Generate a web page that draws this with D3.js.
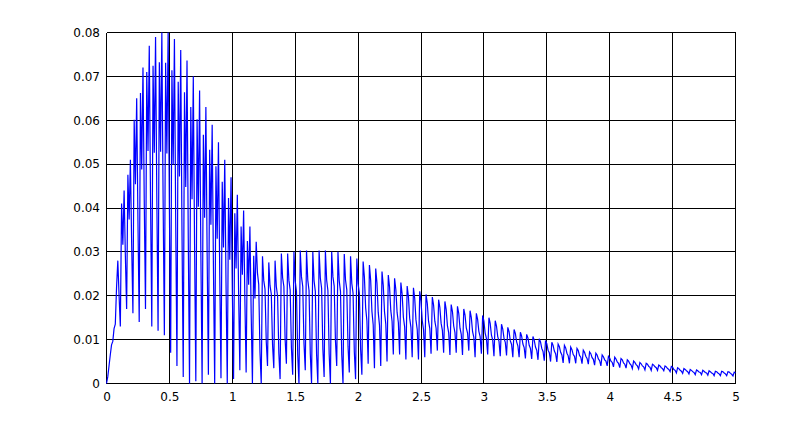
<!DOCTYPE html>
<html>
<head>
<meta charset="utf-8">
<script src="https://cdn.jsdelivr.net/npm/d3@7"></script>
<style>
  html, body { margin: 0; padding: 0; background: #fff; }
  svg { display: block; }
  .tick text { font-family: "DejaVu Sans", sans-serif; font-size: 12px; fill: #000; }
</style>
</head>
<body>
<svg id="chart" width="812" height="430"></svg>
<script>
// ---- data ----
const timeStart = 0;
const timeStep = 0.01;
const xTicks = [0, 0.5, 1, 1.5, 2, 2.5, 3, 3.5, 4, 4.5, 5];
const xTickLabels = ["0", "0.5", "1", "1.5", "2", "2.5", "3", "3.5", "4", "4.5", "5"];
const yTicks = [0, 0.01, 0.02, 0.03, 0.04, 0.05, 0.06, 0.07, 0.08];
const yTickLabels = ["0", "0.01", "0.02", "0.03", "0.04", "0.05", "0.06", "0.07", "0.08"];
const signal = [
  0, .0015, .004, .0065, .0088, .0096, .0125, .0135, .022, .028,
  .020, .013, .041, .0316, .044, .029, .017, .0476, .0374, .051,
  .0318, .016, .0601, .0454, .065, .037, .014, .0662, .0488, .072,
  .0418, .017, .071, .053, .077, .0418, .013, .0724, .0526, .079,
  .0422, .012, .0732, .0528, .080, .042, .011, .0731, .0524, .080,
  .0399, .007, .0714, .0499, .0785, .0375, .004, .0688, .0472, .076,
  .035, .0015, .0664, .0448, .0736, .0331, 0, .063, .042, .070,
  .0318, .0005, .0602, .0403, .0668, .030, 0, .0567, .0378, .063,
  .0295, .002, .0533, .0362, .059, .0266, 0, .0495, .033, .055,
  .0254, .0012, .046, .031, .051, .023, 0, .0423, .0282, .047,
  .0217, .001, .0388, .0262, .043, .021, .003, .0358, .0248, .0394,
  .0191, .0025, .0325, .0225, .0358, .0161, 0, .0291, .0194, .0323,
  .0252, .0226, .0071, 0, .029, .0235, .0215, .0095, .004, .0276,
  .0223, .0204, .0088, .0035, .028, .0221, .0199, .0069, .001, .0296,
  .0241, .0221, .01, .0045, .0296, .0235, .0213, .0081, .002, .030,
  .0234, .021, .0066, 0, .0303, .0243, .0221, .009, .003, .0303,
  .0236, .0212, .0067, 0, .030, .0234, .021, .0066, 0, .0303,
  .024, .0217, .0078, .0015, .0303, .0236, .0212, .0067, 0, .030,
  .0243, .0222, .0097, .004, .030, .0234, .021, .0066, 0, .0295,
  .0236, .0214, .0084, .0025, .029, .0228, .0206, .0072, .001, .0285,
  .0227, .0206, .0078, .002, .0278, .0243, .0173, .0143, .0045, .027,
  .0235, .0164, .0134, .0035, .0262, .0229, .0162, .0133, .004, .0255,
  .0224, .0163, .0136, .005, .0247, .022, .0166, .0142, .0066, .024,
  .0214, .0162, .0139, .0066, .023, .0204, .0151, .0129, .0055, .0222,
  .0198, .0149, .0128, .006, .0218, .0194, .0145, .0123, .0055, .021,
  .0188, .0143, .0123, .006, .0203, .0183, .0142, .0125, .0068, .0197,
  .0179, .0142, .0126, .0075, .0191, .0173, .0137, .0121, .007, .0187,
  .0169, .0132, .0116, .0065, .018, .0164, .0131, .0116, .007, .0176,
  .016, .0126, .0112, .0065, .017, .0156, .0127, .0115, .0075, .0166,
  .015, .0118, .0105, .006, .016, .0146, .0119, .0107, .0068, .0155,
  .0142, .0115, .0103, .0066, .015, .0137, .011, .0099, .0062, .0143,
  .0131, .0107, .0096, .0062, .0135, .0124, .0103, .0094, .0064, .0128,
  .0118, .0097, .0089, .006, .0123, .0114, .0095, .0086, .006, .0117,
  .0108, .009, .0082, .0057, .0112, .0104, .0087, .008, .0056, .0107,
  .0099, .0083, .0076, .0054, .0102, .0095, .008, .0073, .0052, .0098,
  .0091, .0076, .007, .005, .0094, .0087, .0074, .0068, .0049, .009,
  .0084, .0071, .0065, .0047, .0087, .0081, .0069, .0063, .0046, .0083,
  .0077, .0066, .0062, .0046, .008, .0075, .0064, .006, .0045, .0076,
  .0071, .0062, .0057, .0044, .0072, .0068, .0059, .0055, .0042, .0069,
  .0065, .0056, .0052, .004, .0065, .0061, .0054, .0051, .004, .0062,
  .0058, .0051, .0048, .0038, .006, .0056, .0049, .0046, .0036, .0057,
  .0054, .0047, .0044, .0035, .0054, .0051, .0045, .0042, .0034, .0051,
  .0048, .0043, .004, .0033, .0048, .0045, .004, .0038, .0031, .0046,
  .0044, .0039, .0037, .003, .0044, .0042, .0038, .0036, .003, .0042,
  .004, .0036, .0034, .0029, .004, .0038, .0034, .0032, .0027, .0039,
  .0037, .0032, .003, .0024, .0036, .0034, .003, .0028, .0023, .0034,
  .0032, .0029, .0027, .0022, .0032, .003, .0027, .0025, .002, .0031,
  .0029, .0026, .0025, .002, .003, .0028, .0025, .0024, .0019, .0029,
  .0027, .0024, .0023, .0018, .0028, .0027, .0024, .0022, .0018, .0028,
  .0027, .0024, .0022, .0018, .0027, .0026, .0023, .0021, .0017, .0026,
  .0024
];

// ---- layout ----
const svg = d3.select("#chart");
const plot = { left: 106, right: 735, top: 32, bottom: 383 };

const x = d3.scaleLinear().domain([0, 5]).range([plot.left + 0.5, plot.right + 0.5]);
const y = d3.scaleLinear().domain([0, 0.08]).range([plot.bottom + 0.5, plot.top + 0.5]);

svg.append("rect").attr("width", 812).attr("height", 430).attr("fill", "#fff");

// grid lines
const grid = svg.append("g").attr("shape-rendering", "crispEdges");
grid.selectAll("line.vx").data(xTicks).enter().append("line")
  .attr("x1", d => Math.round(x(d) - 0.5) + 0.5).attr("x2", d => Math.round(x(d) - 0.5) + 0.5)
  .attr("y1", y(0)).attr("y2", y(0.08))
  .attr("stroke", "#000").attr("stroke-width", 1);
grid.selectAll("line.hy").data(yTicks).enter().append("line")
  .attr("y1", d => Math.round(y(d) - 0.5) + 0.5).attr("y2", d => Math.round(y(d) - 0.5) + 0.5)
  .attr("x1", x(0)).attr("x2", x(5))
  .attr("stroke", "#000").attr("stroke-width", 1);

// data line
const line = d3.line()
  .x((d, i) => x(timeStart + i * timeStep))
  .y(d => y(d));
svg.append("path")
  .datum(signal)
  .attr("d", line)
  .attr("fill", "none")
  .attr("stroke", "#0000ff")
  .attr("stroke-width", 1.2);

// axes (tick labels)
const xAxis = d3.axisBottom(x).tickValues(xTicks)
  .tickFormat((d, i) => xTickLabels[i]).tickSize(0).tickPadding(9);
const gx = svg.append("g").attr("transform", `translate(0,${plot.bottom})`).call(xAxis);
gx.select(".domain").remove();

const yAxis = d3.axisLeft(y).tickValues(yTicks)
  .tickFormat((d, i) => yTickLabels[i]).tickSize(0).tickPadding(6);
const gy = svg.append("g").attr("transform", `translate(${plot.left},0)`).call(yAxis);
gy.select(".domain").remove();
</script>
</body>
</html>
